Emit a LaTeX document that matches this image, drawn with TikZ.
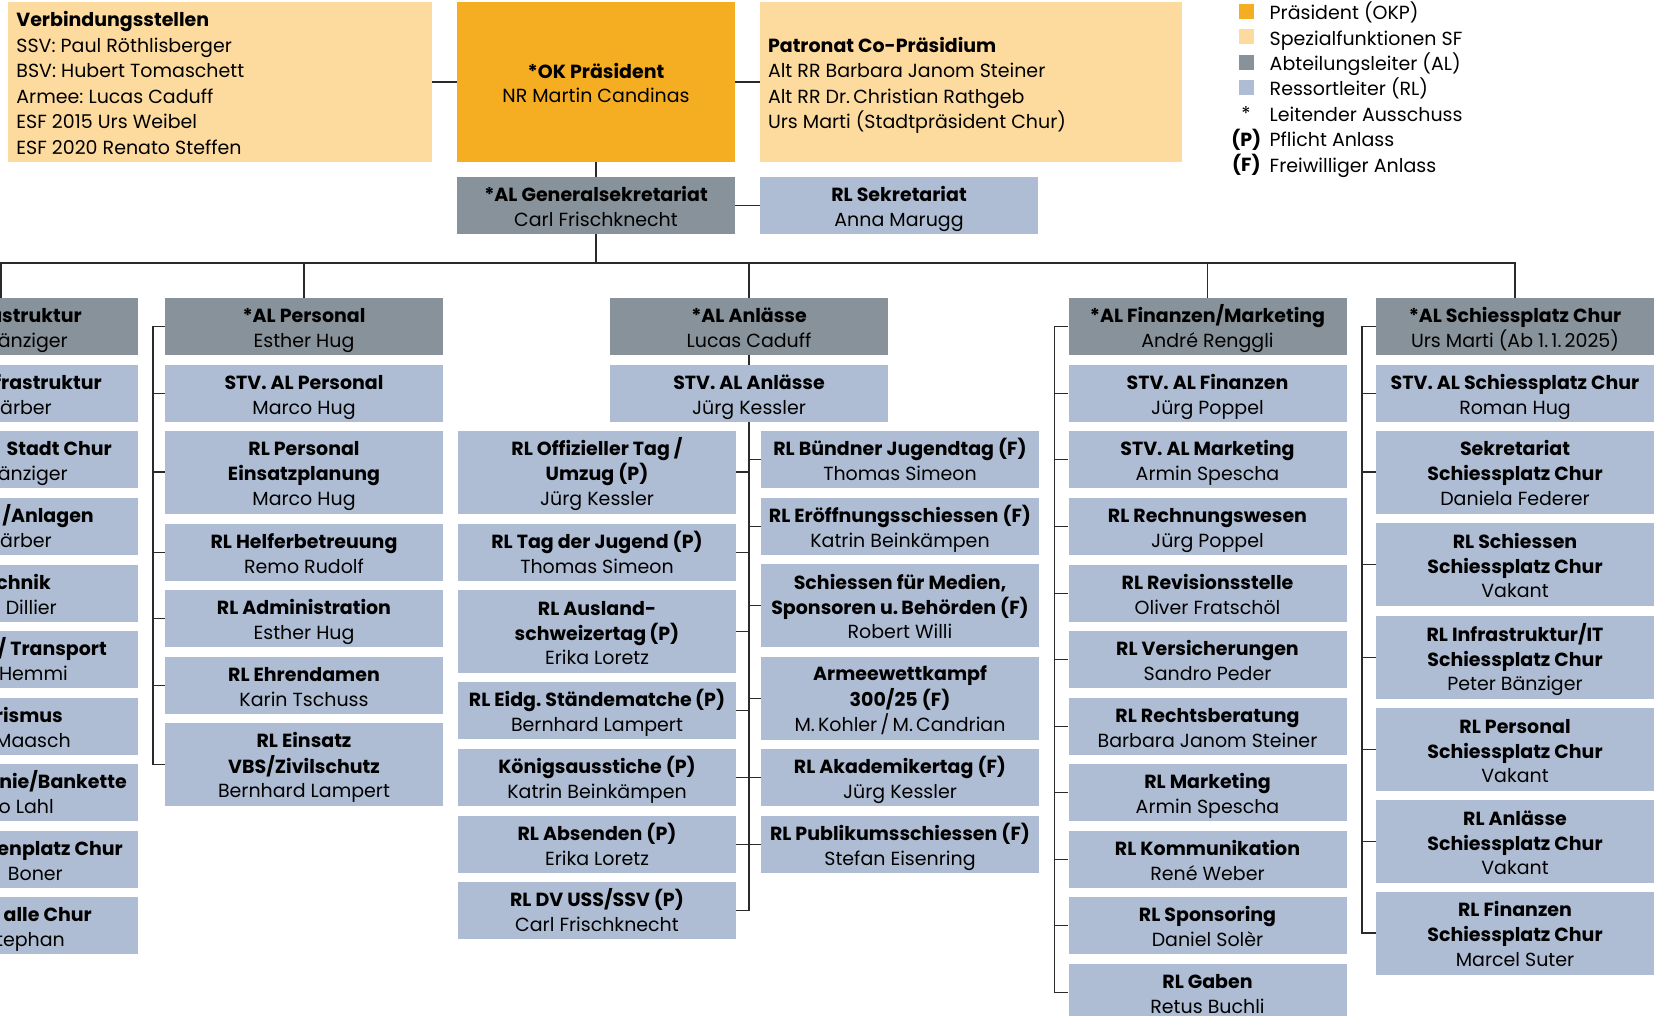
\documentclass[tikz,border=0pt]{standalone}
\usepackage{fontspec}
\setmainfont{Poppins}
\frenchspacing
\definecolor{okorange}{HTML}{F5AD22}
\definecolor{sforange}{HTML}{FDDB9E}
\definecolor{algray}{HTML}{87929A}
\definecolor{rlblue}{HTML}{AEBDD3}
\definecolor{linec}{HTML}{2A2A2A}
\newcommand{\fs}{\fontsize{19}{24.6}\selectfont\frenchspacing}
\newcommand{\fst}{\fontsize{19}{25.5}\selectfont\frenchspacing}
% two- and three-line centred text, last baseline placed below the node centre
\newcommand{\Tw}[1]{\raisebox{-20.8pt}[0pt][0pt]{\begin{tabular}[b]{@{}c@{}}#1\end{tabular}}}
\newcommand{\Tt}[1]{\raisebox{-33.1pt}[0pt][0pt]{\begin{tabular}[b]{@{}c@{}}#1\end{tabular}}}
\newcommand{\Tl}[2]{\raisebox{-#1pt}[0pt][0pt]{\begin{tabular}[b]{@{}l@{}}#2\end{tabular}}}
\tikzset{
  bx/.style={rectangle, inner sep=0pt, minimum width=278pt, font=\fs},
  al/.style={bx, fill=algray},
  rl/.style={bx, fill=rlblue},
  two/.style={minimum height=57pt},
  three/.style={minimum height=83pt},
  sfbox/.style={rectangle, fill=sforange, inner sep=0pt, minimum height=160pt},
  sftext/.style={inner sep=0pt, anchor=west, font=\fst},
  conn/.style={draw=linec, line width=1.4pt},
  frag/.style={inner sep=0pt, anchor=base east, font=\fs},
  legt/.style={inner sep=0pt, anchor=west, font=\fs, text height=15pt, text depth=0pt},
  legs/.style={inner sep=0pt, anchor=center, font=\fs, text height=15pt, text depth=0pt},
  legbox/.style={rectangle, inner sep=0pt, minimum width=15pt, minimum height=15pt},
}
\begin{document}
\begin{tikzpicture}[x=1pt, y=-1pt]
\useasboundingbox (0,0) rectangle (1656,1016);
\clip (0,0) rectangle (1656,1016);

% ---------- top row
\node[sfbox, minimum width=424pt] (vb) at (220,82) {};
\node[sftext] (vbt) at ([xshift=8.4pt]vb.west) {\Tl{72.25}{\textbf{Verbindungsstellen}\\SSV: Paul Röthlisberger\\BSV: Hubert Tomaschett\\Armee: Lucas Caduff\\ESF 2015 Urs Weibel\\ESF 2020 Renato Steffen}};
\node[bx, fill=okorange, minimum height=160pt] (ok) at (596,82) {\Tw{\textbf{*OK Präsident}\\NR Martin Candinas}};
\node[sfbox, minimum width=422pt] (pat) at (971,82) {};
\node[sftext] (patt) at ([xshift=8pt]pat.west) {\Tl{46.75}{\textbf{Patronat Co-Präsidium}\\Alt RR Barbara Janom Steiner\\Alt RR Dr.\,Christian Rathgeb\\Urs Marti (Stadtpräsident Chur)}};
\node[al, two] (gs) at (596,205.5) {\Tw{\textbf{*AL Generalsekretariat}\\Carl Frischknecht}};
\node[rl, two] (sek) at (899,205.5) {\Tw{\textbf{RL Sekretariat}\\Anna Marugg}};

% ---------- legend
\node[legbox, fill=okorange] (lg1) at (1246.5,11.5) {};
\node[legbox, fill=sforange] (lg2) at (1246.5,36.8) {};
\node[legbox, fill=algray] (lg3) at (1246.5,62.2) {};
\node[legbox, fill=rlblue] (lg4) at (1246.5,87.6) {};
\node[legs] (lg5) at (1246,113.5) {*};
\node[legs] (lg6) at (1246.3,139) {\textbf{(P)}};
\node[legs] (lg7) at (1246.3,164.4) {\textbf{(F)}};
\node[legt] (lt1) at (1269.5,12.3) {Präsident (OKP)};
\node[legt] (lt2) at (1269.5,37.7) {Spezialfunktionen SF};
\node[legt] (lt3) at (1269.5,63.1) {Abteilungsleiter (AL)};
\node[legt] (lt4) at (1269.5,88.5) {Ressortleiter (RL)};
\node[legt] (lt5) at (1269.5,113.9) {Leitender Ausschuss};
\node[legt] (lt6) at (1269.5,139.3) {Pflicht Anlass};
\node[legt] (lt7) at (1269.5,164.7) {Freiwilliger Anlass};

% ---------- column 0 (cut off at the left edge)
\node[al, two] (c0a) at (-1,326.5) {};
\node[rl, two] (c0b) at (-1,393.5) {};
\node[rl, two] (c0c) at (-1,459.5) {};
\node[rl, two] (c0d) at (-1,526.5) {};
\node[rl, two] (c0e) at (-1,593.5) {};
\node[rl, two] (c0f) at (-1,659.5) {};
\node[rl, two] (c0g) at (-1,726.5) {};
\node[rl, two] (c0h) at (-1,792.5) {};
\node[rl, two] (c0i) at (-1,859.5) {};
\node[rl, two] (c0j) at (-1,925.5) {};
\node[frag] (f1a) at (82,322.7) {\textbf{astruktur}};
\node[frag] (f1b) at (68,347.3) {änziger};
\node[frag] (f2a) at (102,389.7) {\textbf{frastruktur}};
\node[frag] (f2b) at (52,414.3) {Färber};
\node[frag] (f3a) at (112,455.7) {\textbf{Stadt Chur}};
\node[frag] (f3b) at (68,480.3) {änziger};
\node[frag] (f4a) at (94,522.7) {\textbf{/Anlagen}};
\node[frag] (f4b) at (52,547.3) {Färber};
\node[frag] (f5a) at (51,589.7) {\textbf{chnik}};
\node[frag] (f5b) at (57,614.3) {Dillier};
\node[frag] (f6a) at (107,655.7) {\textbf{/ Transport}};
\node[frag] (f6b) at (68,680.3) {Hemmi};
\node[frag] (f7a) at (63,722.7) {\textbf{rismus}};
\node[frag] (f7b) at (71,747.3) {Maasch};
\node[frag] (f8a) at (127,788.7) {\textbf{nie/Bankette}};
\node[frag] (f8b) at (54,813.3) {o Lahl};
\node[frag] (f9a) at (123,855.7) {\textbf{enplatz Chur}};
\node[frag] (f9b) at (63,880.3) {Boner};
\node[frag] (f10a) at (92,921.7) {\textbf{alle Chur}};
\node[frag] (f10b) at (65,946.3) {tephan};

% ---------- Personal
\node[al, two] (pera) at (304,326.5) {\Tw{\textbf{*AL Personal}\\Esther Hug}};
\node[rl, two] (perb) at (304,393.5) {\Tw{\textbf{STV. AL Personal}\\Marco Hug}};
\node[rl, three] (perc) at (304,472) {\Tt{\textbf{RL Personal}\\\textbf{Einsatzplanung}\\Marco Hug}};
\node[rl, two] (perd) at (304,552.5) {\Tw{\textbf{RL Helferbetreuung}\\Remo Rudolf}};
\node[rl, two] (pere) at (304,618.5) {\Tw{\textbf{RL Administration}\\Esther Hug}};
\node[rl, two] (perf) at (304,685.5) {\Tw{\textbf{RL Ehrendamen}\\Karin Tschuss}};
\node[rl, three] (perg) at (304,764.5) {\Tt{\textbf{RL Einsatz}\\\textbf{VBS/Zivilschutz}\\Bernhard Lampert}};

% ---------- Anlaesse
\node[al, two] (anla) at (749,326.5) {\Tw{\textbf{*AL Anlässe}\\Lucas Caduff}};
\node[rl, two] (anlb) at (749,393.5) {\Tw{\textbf{STV. AL Anlässe}\\Jürg Kessler}};
\node[rl, three] (off) at (597,472) {\Tt{\textbf{RL Offizieller Tag /}\\\textbf{Umzug (P)}\\Jürg Kessler}};
\node[rl, two] (tdj) at (597,552.5) {\Tw{\textbf{RL Tag der Jugend (P)}\\Thomas Simeon}};
\node[rl, three] (aus) at (597,631.5) {\Tt{\textbf{RL Ausland-}\\\textbf{schweizertag\,(P)}\\Erika Loretz}};
\node[rl, two] (eidg) at (597,710.5) {\Tw{\textbf{RL Eidg. Ständematche\,(P)}\\Bernhard Lampert}};
\node[rl, two] (kon) at (597,777.5) {\Tw{\textbf{Königsausstiche (P)}\\Katrin Beinkämpen}};
\node[rl, two] (abs) at (597,844.5) {\Tw{\textbf{RL Absenden (P)}\\Erika Loretz}};
\node[rl, two] (dv) at (597,910.5) {\Tw{\textbf{RL DV USS/SSV (P)}\\Carl Frischknecht}};
\node[rl, two] (bun) at (900,459.5) {\Tw{\textbf{RL Bündner Jugendtag (F)}\\Thomas Simeon}};
\node[rl, two] (ero) at (900,526.5) {\Tw{\textbf{RL Eröffnungsschiessen (F)}\\Katrin Beinkämpen}};
\node[rl, three] (med) at (900,605.5) {\Tt{\textbf{Schiessen für Medien,}\\\textbf{Sponsoren u.\,Behörden (F)}\\Robert Willi}};
\node[rl, three] (arm) at (900,698.5) {\Tt{\textbf{Armeewettkampf}\\\textbf{300/25 (F)}\\M.\,Kohler\,/\,M.\,Candrian}};
\node[rl, two] (aka) at (900,777.5) {\Tw{\textbf{RL Akademikertag (F)}\\Jürg Kessler}};
\node[rl, two] (pub) at (900,844.5) {\Tw{\textbf{RL Publikumsschiessen (F)}\\Stefan Eisenring}};

% ---------- Finanzen / Marketing
\node[al, two] (fina) at (1207.5,326.5) {\Tw{\textbf{*AL Finanzen/Marketing}\\André Renggli}};
\node[rl, two] (finb) at (1207.5,393.5) {\Tw{\textbf{STV. AL Finanzen}\\Jürg Poppel}};
\node[rl, two] (finc) at (1207.5,459.5) {\Tw{\textbf{STV. AL Marketing}\\Armin Spescha}};
\node[rl, two] (find) at (1207.5,526.5) {\Tw{\textbf{RL Rechnungswesen}\\Jürg Poppel}};
\node[rl, two] (fine) at (1207.5,593.5) {\Tw{\textbf{RL Revisionsstelle}\\Oliver Fratschöl}};
\node[rl, two] (finf) at (1207.5,659.5) {\Tw{\textbf{RL Versicherungen}\\Sandro Peder}};
\node[rl, two] (fing) at (1207.5,726.5) {\Tw{\textbf{RL Rechtsberatung}\\Barbara Janom Steiner}};
\node[rl, two] (finh) at (1207.5,792.5) {\Tw{\textbf{RL Marketing}\\Armin Spescha}};
\node[rl, two] (fini) at (1207.5,859.5) {\Tw{\textbf{RL Kommunikation}\\René Weber}};
\node[rl, two] (finj) at (1207.5,925.5) {\Tw{\textbf{RL Sponsoring}\\Daniel Solèr}};
\node[rl, two] (fink) at (1207.5,992.5) {\Tw{\textbf{RL Gaben}\\Retus Buchli}};

% ---------- Schiessplatz Chur
\node[al, two] (scha) at (1515,326.5) {\Tw{\textbf{*AL Schiessplatz Chur}\\Urs Marti (Ab 1.\,1.\,2025)}};
\node[rl, two] (schb) at (1515,393.5) {\Tw{\textbf{STV. AL Schiessplatz Chur}\\Roman Hug}};
\node[rl, three] (schc) at (1515,472) {\Tt{\textbf{Sekretariat}\\\textbf{Schiessplatz Chur}\\Daniela Federer}};
\node[rl, three] (schd) at (1515,564.5) {\Tt{\textbf{RL Schiessen}\\\textbf{Schiessplatz Chur}\\Vakant}};
\node[rl, three] (sche) at (1515,657.5) {\Tt{\textbf{RL Infrastruktur/IT}\\\textbf{Schiessplatz Chur}\\Peter Bänziger}};
\node[rl, three] (schf) at (1515,749.5) {\Tt{\textbf{RL Personal}\\\textbf{Schiessplatz Chur}\\Vakant}};
\node[rl, three] (schg) at (1515,841.5) {\Tt{\textbf{RL Anlässe}\\\textbf{Schiessplatz Chur}\\Vakant}};
\node[rl, three] (schh) at (1515,933) {\Tt{\textbf{RL Finanzen}\\\textbf{Schiessplatz Chur}\\Marcel Suter}};

% ---------- connectors
\draw[conn] (vb.east) -- (ok.west);
\draw[conn] (ok.east) -- (pat.west);
\draw[conn] (ok.south) -- (gs.north);
\draw[conn] (gs.east) -- (sek.west);
\coordinate (bus) at (0.8,263);
\draw[conn] (gs.south) -- (gs.south |- bus);
\draw[conn] (c0a.north -| bus) -- (bus) -- (scha.north |- bus) -- (scha.north);
\draw[conn] (pera.north |- bus) -- (pera.north);
\draw[conn] (anla.north |- bus) -- (anla.north);
\draw[conn] (fina.north |- bus) -- (fina.north);

% Personal
\draw[conn] (pera.west) -- ++(-12,0) |- (perg.west);
\foreach \n in {perb,perc,perd,pere,perf} \draw[conn] (\n.west) -- ++(-12,0);
% Anlaesse
\draw[conn] (anla.south) -- (anlb.north);
\draw[conn] (anlb.south) |- (dv.east);
\foreach \n in {off,tdj,aus,eidg,kon,abs} \draw[conn] (\n.east) -- (\n.east -| anlb.south);
\foreach \n in {bun,ero,med,arm,aka,pub} \draw[conn] (\n.west) -- (\n.west -| anlb.south);
% Finanzen
\draw[conn] (fina.west) -- ++(-14,0) |- (fink.west);
\foreach \n in {finb,finc,find,fine,finf,fing,finh,fini,finj} \draw[conn] (\n.west) -- ++(-14,0);
% Schiessplatz
\draw[conn] (scha.west) -- ++(-14,0) |- (schh.west);
\foreach \n in {schb,schc,schd,sche,schf,schg} \draw[conn] (\n.west) -- ++(-14,0);
\end{tikzpicture}
\end{document}
